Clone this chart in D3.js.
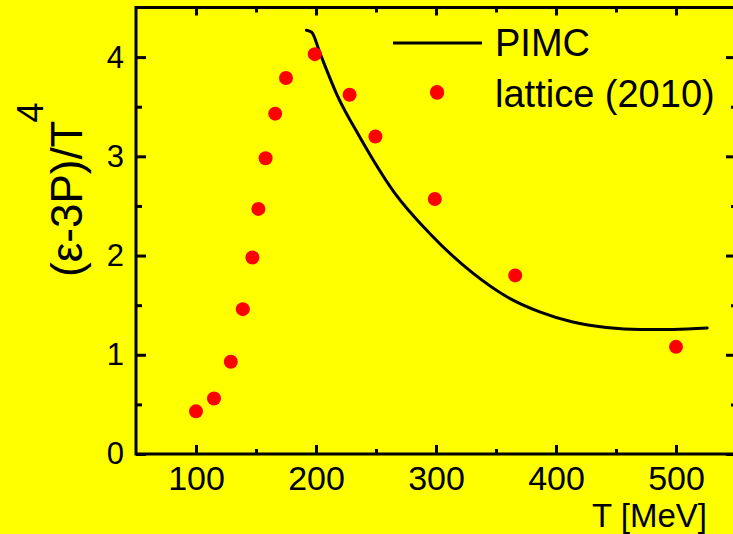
<!DOCTYPE html>
<html>
<head>
<meta charset="utf-8">
<script src="https://cdn.jsdelivr.net/npm/d3@7"></script>
<style>
  html, body { margin: 0; padding: 0; background: #ffff00; }
  svg { display: block; }
  text { font-family: "Liberation Sans", Arial, Helvetica, sans-serif; fill: #000; }
</style>
</head>
<body>
<svg id="chart" width="733" height="534"></svg>
<script>
// Lattice QCD trace anomaly (2010) — temperature in MeV and (ε-3P)/T^4
const latticeT = [100, 115, 129, 139, 147, 152, 158, 166, 175, 199, 228, 249.5, 299, 301, 366, 500];
const latticeY = [0.43, 0.56, 0.93, 1.46, 1.98, 2.47, 2.98, 3.43, 3.79, 4.03, 3.62, 3.20, 2.57, 3.64, 1.80, 1.08];

// PIMC curve
const pimcT = [192, 196.4, 203.3, 217.5, 236.7, 265, 295, 331, 359, 387, 414, 442, 470, 498, 526];
const pimcY = [4.27, 4.25, 4.04, 3.62, 3.19, 2.64, 2.22, 1.82, 1.585, 1.43, 1.33, 1.276, 1.256, 1.256, 1.27];

// Axis ticks
const xMajor = [100, 200, 300, 400, 500];
const xMinor = [150, 250, 350, 450];
const yMajor = [0, 1, 2, 3, 4];
const yMinor = [0.5, 1.5, 2.5, 3.5];

const xDomain = [50, 550];
const yDomain = [0, 4.5];

const svg = d3.select("#chart");
const W = 733, H = 534;
const margin = { left: 136, top: 7.5, right: -3, bottom: 80 };
const width = W - margin.left - margin.right;   // 600
const height = H - margin.top - margin.bottom;  // 446.5

svg.append("rect").attr("width", W).attr("height", H).attr("fill", "#ffff00");

const g = svg.append("g").attr("transform", `translate(${margin.left},${margin.top})`);

const x = d3.scaleLinear().domain(xDomain).range([0, width]);
const y = d3.scaleLinear().domain(yDomain).range([height, 0]);

function styleAxis(sel) {
  sel.select(".domain").remove();
  sel.selectAll("line").attr("stroke", "#000").attr("stroke-width", 3);
  sel.selectAll("text").attr("font-family", "Liberation Sans, Arial, sans-serif").attr("fill", "#000");
}

// bottom axis
const bottom = g.append("g").attr("transform", `translate(0,${height})`)
  .call(d3.axisBottom(x).tickValues(xMajor).tickSize(-9).tickFormat(d3.format("d")));
styleAxis(bottom);
bottom.selectAll("text").attr("font-size", 34).attr("dy", 0).attr("y", 36);
g.append("g").attr("transform", `translate(0,${height})`)
  .call(d3.axisBottom(x).tickValues(xMinor).tickSize(-5).tickFormat(""))
  .call(styleAxis);

// top axis
g.append("g").call(d3.axisTop(x).tickValues(xMajor).tickSize(-8).tickFormat("")).call(styleAxis);
g.append("g").call(d3.axisTop(x).tickValues(xMinor).tickSize(-5).tickFormat("")).call(styleAxis);

// left axis
const left = g.append("g")
  .call(d3.axisLeft(y).tickValues(yMajor).tickSize(-10).tickPadding(12).tickFormat(d3.format("d")));
styleAxis(left);
left.selectAll("text").attr("font-size", 31);
g.append("g").call(d3.axisLeft(y).tickValues(yMinor).tickSize(-6).tickFormat("")).call(styleAxis);

// right axis
g.append("g").attr("transform", `translate(${width},0)`)
  .call(d3.axisRight(y).tickValues(yMajor).tickSize(-10).tickFormat("")).call(styleAxis);
g.append("g").attr("transform", `translate(${width},0)`)
  .call(d3.axisRight(y).tickValues(yMinor).tickSize(-5).tickFormat("")).call(styleAxis);

// frame
g.append("rect")
  .attr("x", 0).attr("y", 0).attr("width", width).attr("height", height)
  .attr("fill", "none").attr("stroke", "#000").attr("stroke-width", 3);

// PIMC line
const pimc = pimcT.map((t, i) => ({ t, v: pimcY[i] }));
g.append("path")
  .datum(pimc)
  .attr("fill", "none")
  .attr("stroke", "#000")
  .attr("stroke-width", 3)
  .attr("stroke-linecap", "round")
  .attr("d", d3.line().x(d => x(d.t)).y(d => y(d.v)).curve(d3.curveMonotoneX));

// lattice points
const lattice = latticeT.map((t, i) => ({ t, v: latticeY[i] }));
g.selectAll("circle.lat")
  .data(lattice)
  .join("circle")
  .attr("class", "lat")
  .attr("cx", d => x(d.t))
  .attr("cy", d => y(d.v))
  .attr("r", 7)
  .attr("fill", "#ff0000");

// legend
const leg = svg.append("g");
leg.append("line").attr("x1", 393).attr("x2", 482).attr("y1", 43).attr("y2", 43)
  .attr("stroke", "#000").attr("stroke-width", 3);
leg.append("text").attr("x", 495).attr("y", 56).attr("font-size", 38).text("PIMC");
leg.append("circle").attr("cx", 437).attr("cy", 92).attr("r", 7).attr("fill", "#ff0000");
leg.append("text").attr("x", 495).attr("y", 107).attr("font-size", 38).text("lattice (2010)");

// axis titles
svg.append("text")
  .attr("x", 707).attr("y", 527)
  .attr("text-anchor", "end")
  .attr("font-size", 33)
  .text("T [MeV]");

const yt = svg.append("text")
  .attr("transform", "translate(82,277) rotate(-90)")
  .attr("font-size", 44);
yt.append("tspan").text("(ε-3P)/T");
yt.append("tspan").attr("dy", -39).attr("dx", -2).attr("font-size", 36).text("4");
</script>
</body>
</html>
